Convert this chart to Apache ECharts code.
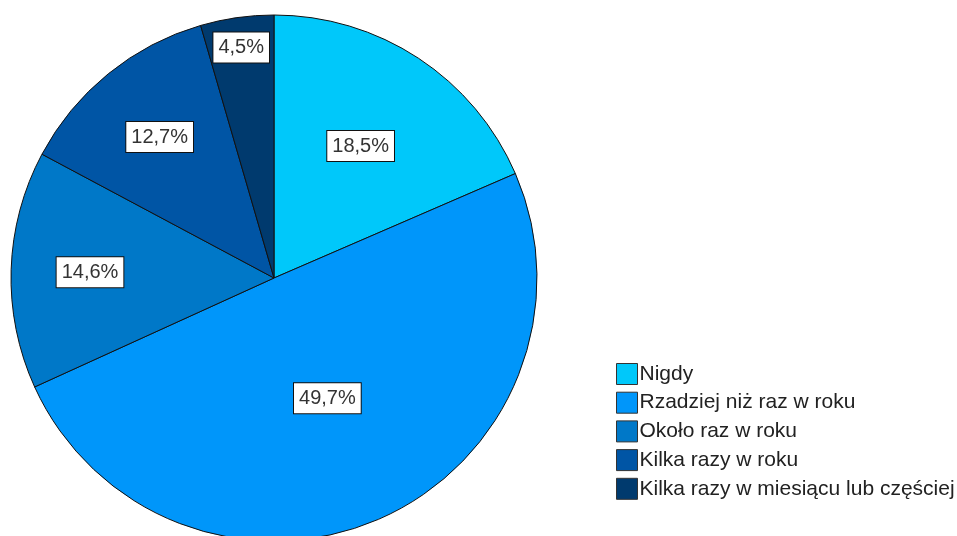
<!DOCTYPE html>
<html>
<head>
<meta charset="utf-8">
<script src="https://cdn.jsdelivr.net/npm/echarts@6/dist/echarts.min.js"></script>
<style>
  html, body { margin: 0; padding: 0; background: #fff; }
  #chart { width: 957px; height: 536px; }
</style>
</head>
<body>
<div id="chart"></div>
<script>
// Categories and their shares (percent)
const categories = [
  'Nigdy',
  'Rzadziej niż raz w roku',
  'Około raz w roku',
  'Kilka razy w roku',
  'Kilka razy w miesiącu lub częściej'
];
const shares = [18.5, 49.7, 14.6, 12.7, 4.5];

// Slice colours
const sliceColors = ['#00C8FA', '#0096FA', '#0078C8', '#0055A5', '#003A6E'];

// Radial position of each value label, as a fraction of the radius
const labelRadius = [0.60, 0.50, 0.70, 0.69, 0.885];

const CX = 274, CY = 278, R = 263;
const FONT = '"Liberation Sans", Arial, sans-serif';

const total = shares.reduce((a, b) => a + b, 0);

function midAngle(i) {
  let before = 0;
  for (let k = 0; k < i; k++) before += shares[k];
  // clockwise from 12 o'clock, in radians
  return ((before + shares[i] / 2) / total) * Math.PI * 2;
}

const chart = echarts.init(document.getElementById('chart'), null, { renderer: 'canvas' });

chart.setOption({
  animation: false,
  backgroundColor: '#fff',
  color: sliceColors,
  legend: {
    orient: 'vertical',
    left: 611,
    top: 358,
    itemWidth: 21,
    itemHeight: 21,
    itemGap: 6.7,
    icon: 'rect',
    selectedMode: false,
    itemStyle: { borderColor: '#333', borderWidth: 1 },
    textStyle: {
      fontFamily: FONT,
      fontSize: 21,
      color: '#222',
      padding: [0, 0, 0, -3]
    },
    data: categories
  },
  series: [{
    type: 'pie',
    center: [CX, CY],
    radius: R,
    startAngle: 90,
    clockwise: true,
    silent: true,
    avoidLabelOverlap: false,
    itemStyle: { borderColor: '#111', borderWidth: 1 },
    emphasis: { disabled: true },
    label: {
      show: true,
      position: 'inside',
      formatter: p => p.value.toFixed(1).replace('.', ',') + '%',
      fontFamily: FONT,
      fontSize: 20,
      color: '#333',
      backgroundColor: '#fff',
      borderColor: '#111',
      borderWidth: 1,
      padding: [6, 5, 4, 5]
    },
    labelLine: { show: false },
    labelLayout: function (params) {
      const i = params.dataIndex;
      const a = midAngle(i);
      const r = R * labelRadius[i];
      return {
        x: CX + r * Math.sin(a),
        y: CY - r * Math.cos(a),
        align: 'center',
        verticalAlign: 'middle'
      };
    },
    data: categories.map((name, i) => ({ name: name, value: shares[i] }))
  }]
});
</script>
</body>
</html>
